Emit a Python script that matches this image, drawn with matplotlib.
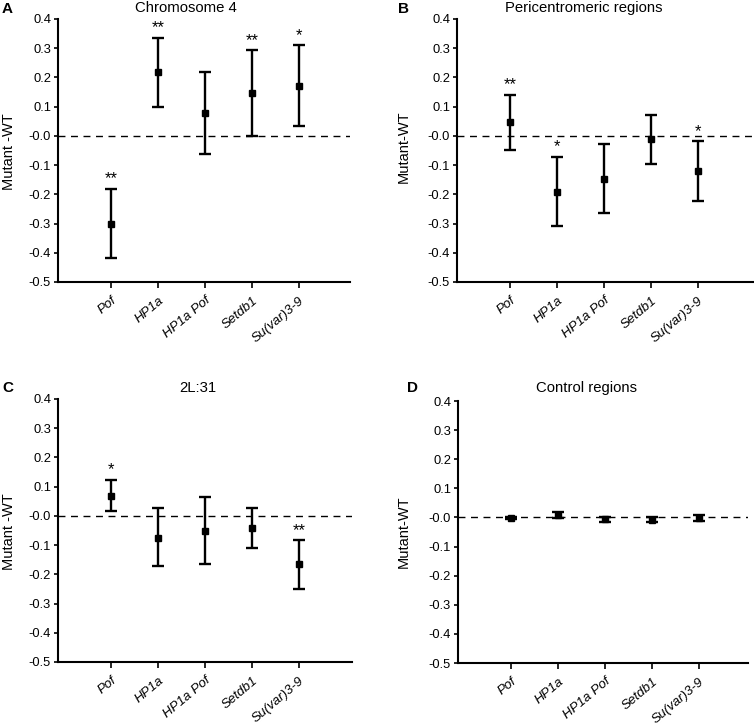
import matplotlib
matplotlib.use("Agg")
import matplotlib.pyplot as plt
import numpy as np

plt.rcParams['font.family'] = ['Liberation Sans', 'DejaVu Sans']

categories = ["Pof", "HP1a", "HP1a Pof", "Setdb1", "Su(var)3-9"]
tick_labels = ["Pof", "HP1a", "HP1a Pof", "Setdb1", "Su(var)3-9"]

# Panel A: Chromosome 4
a_mean = [-0.30, 0.219, 0.079, 0.147, 0.172]
a_low = [-0.418, 0.099, -0.062, -0.001, 0.034]
a_high = [-0.181, 0.336, 0.220, 0.293, 0.310]
a_sig = ["**", "**", "", "**", "*"]

# Panel B: Pericentromeric regions
b_mean = [0.046, -0.193, -0.147, -0.011, -0.121]
b_low = [-0.049, -0.308, -0.265, -0.096, -0.223]
b_high = [0.141, -0.072, -0.027, 0.072, -0.019]
b_sig = ["**", "*", "", "", "*"]

# Panel C: 2L:31
c_mean = [0.068, -0.075, -0.052, -0.041, -0.166]
c_low = [0.016, -0.171, -0.166, -0.109, -0.250]
c_high = [0.124, 0.026, 0.063, 0.027, -0.084]
c_sig = ["*", "", "", "", "**"]

# Panel D: Control regions
d_mean = [-0.002, 0.007, -0.007, -0.008, -0.001]
d_low = [-0.007, -0.003, -0.017, -0.017, -0.011]
d_high = [0.003, 0.017, 0.003, 0.001, 0.009]
d_sig = ["", "", "", "", ""]

W, H = 754, 727
# (letter, title, ylabel, data..., axes rect px [left, top, right, bottom], letter pos px, title pos px, ylabel pos px)
panels = [
    ("A", "Chromosome 4", "Mutant -WT", a_mean, a_low, a_high, a_sig,
     (58, 19, 350, 282), (2, 9), (186, 8), (9, 152)),
    ("B", "Pericentromeric regions", "Mutant-WT", b_mean, b_low, b_high, b_sig,
     (457, 19, 753, 282), (398, 9), (584, 8), (404, 147)),
    ("C", "2L:31", "Mutant -WT", c_mean, c_low, c_high, c_sig,
     (58, 399, 352, 662), (2, 388), (198, 388), (9, 532)),
    ("D", "Control regions", "Mutant-WT", d_mean, d_low, d_high, d_sig,
     (458, 401, 748, 663), (407, 388), (586, 388), (404, 532)),
]

fig = plt.figure(figsize=(W / 100, H / 100), dpi=100)
fs = 9.3
x = np.arange(1, len(categories) + 1)

for letter, title, ylabel, mean, low, high, sig, box, lpos, tpos, ypos in panels:
    l, t, r, b = box
    ax = fig.add_axes([l / W, 1 - b / H, (r - l) / W, (b - t) / H])
    mean = np.array(mean); low = np.array(low); high = np.array(high)
    yerr = np.vstack([mean - low, high - mean])
    ax.axhline(0, color='black', lw=1.0, ls=(0, (5, 4)), zorder=1)
    ax.errorbar(x, mean, yerr=yerr, fmt='s', color='black', ms=4.8, elinewidth=1.7,
                capsize=4.2, capthick=1.7, zorder=3)
    for xi, hi, s in zip(x, high, sig):
        if s:
            ax.text(xi, hi + 0.008, s, ha='center', va='bottom', fontsize=12)
    ax.set_xlim(1 - 53 / 47, 1 + (r - l - 53) / 47)
    ax.set_ylim(-0.5, 0.4)
    yt = np.round(np.arange(-0.5, 0.41, 0.1), 1)
    ax.set_yticks(yt)
    ax.set_yticklabels([f"{v:.1f}" for v in yt], fontsize=fs)
    ax.set_xticks(x)
    ax.set_xticklabels(tick_labels, rotation=40, ha='right', rotation_mode='anchor',
                       fontsize=9.6, fontstyle='italic')
    for sp in ['top', 'right']:
        ax.spines[sp].set_visible(False)
    for sp in ['left', 'bottom']:
        ax.spines[sp].set_linewidth(1.5)
    ax.tick_params(axis='y', direction='out', length=3, width=1.2, pad=2)
    ax.tick_params(axis='x', direction='out', length=4, width=1.2, pad=5)
    fig.text(ypos[0] / W, 1 - ypos[1] / H, ylabel, fontsize=10.5, rotation=90,
             ha='center', va='center')
    fig.text(tpos[0] / W, 1 - tpos[1] / H, title, fontsize=10.7, ha='center', va='center')
    fig.text(lpos[0] / W, 1 - lpos[1] / H, letter, fontsize=11,
             fontweight='bold', ha='left', va='center')

fig.savefig("out.png", dpi=100)
